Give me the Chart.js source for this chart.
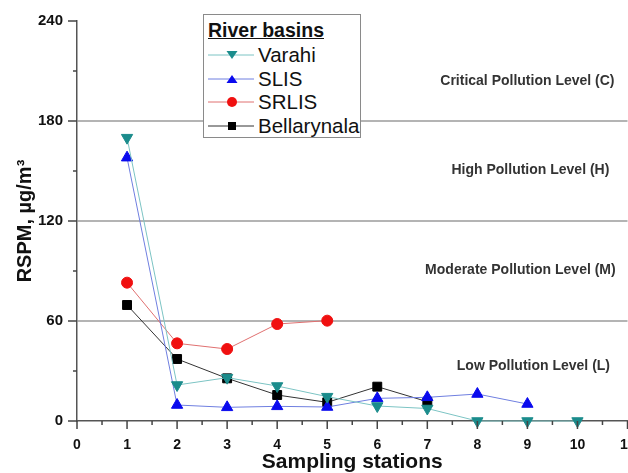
<!DOCTYPE html>
<html><head><meta charset="utf-8">
<script src="https://cdn.jsdelivr.net/npm/chart.js@4"></script>
<style>
html,body{margin:0;padding:0;background:#fff;overflow:hidden;}
#wrap{position:relative;width:628px;height:473px;overflow:hidden;}
#legend{position:absolute;left:203px;top:14px;width:158px;height:124px;border:1px solid #8a8a8a;background:#fff;box-sizing:border-box;font-family:"Liberation Sans",Arial,sans-serif;color:#111;}
#legend .ttl{position:absolute;left:4px;top:4px;font-weight:bold;font-size:19.5px;line-height:22px;text-decoration:underline;}
#legend .row{position:absolute;left:0;height:24px;width:156px;}
#legend .row svg{position:absolute;left:2px;top:2px;}
#legend .row span{position:absolute;left:54px;top:0;font-size:20.5px;line-height:24px;white-space:nowrap;}
</style>
</head><body>
<div id="wrap">
<canvas id="c" width="635" height="473"></canvas>
<div id="legend"></div>
</div>
<script>
// ---- data ----
const stations = [1, 2, 3, 4, 5, 6, 7, 8, 9, 10];
const varahi = [170, 21.6, 26, 21, 14.6, 9, 7.5, 0, 0, 0];
const slis = [158, 9.6, 8.2, 8.8, 8.4, 13.6, 14.2, 16.2, 10.2];
const srlis = [83, 46.6, 43.2, 58.2, 60.2];
const bellarynala = [69.6, 37.2, 25.6, 15.6, 11.2, 20.6, 11.6];
const seriesNames = ['Varahi', 'SLIS', 'SRLIS', 'Bellarynala'];
const legendTitle = 'River basins';
const xTickValues = [0, 1, 2, 3, 4, 5, 6, 7, 8, 9, 10, 11];
const yTickValues = [0, 60, 120, 180, 240];
const levelNames = ['Critical Pollution Level (C)', 'High Pollution Level (H)', 'Moderate Pollution Level (M)', 'Low Pollution Level (L)'];
const levelValues = [204, 150.6, 90.6, 33];
const levelStations = [9.0, 9.06, 8.86, 9.12];
const xTitle = 'Sampling stations';
const yTitle = 'RSPM, µg/m³';

const FONT = '"Liberation Sans", Arial, sans-serif';
const styles = [
  {marker:'#1b8c8c', line:'#7cc4c4', shape:'triangle', rot:180, r:6.5},
  {marker:'#0a0aee', line:'#6f7fe0', shape:'triangle', rot:0, r:6.5},
  {marker:'#f01010', line:'#e07070', shape:'circle', rot:0, r:5.5},
  {marker:'#000000', line:'#333333', shape:'rect', rot:0, r:6.3}
];
const seriesValues = [varahi, slis, srlis, bellarynala];
const toPoints = arr => arr.map((v, i) => ({x: stations[i], y: v}));

const datasets = seriesValues.map((vals, i) => ({
  label: seriesNames[i],
  data: toPoints(vals),
  borderColor: styles[i].line,
  borderWidth: 1,
  backgroundColor: styles[i].marker,
  pointBackgroundColor: styles[i].marker,
  pointBorderColor: styles[i].marker,
  pointBorderWidth: 1,
  pointStyle: styles[i].shape,
  pointRotation: styles[i].rot,
  pointRadius: styles[i].r,
  tension: 0,
  clip: false,
  fill: false
}));

const decor = {
  id: 'decor',
  afterDraw(chart) {
    const {ctx, scales: {x, y}} = chart;
    ctx.save();
    ctx.strokeStyle = '#444';
    ctx.lineWidth = 1.5;
    const xMax = xTickValues[xTickValues.length - 1];
    for (let v = 0; v <= xMax + 1e-9; v += 0.5) {
      const px = x.getPixelForValue(v);
      const len = Number.isInteger(v) ? 8 : 4;
      ctx.beginPath(); ctx.moveTo(px, y.bottom); ctx.lineTo(px, y.bottom + len); ctx.stroke();
    }
    const yMax = yTickValues[yTickValues.length - 1];
    for (let v = 0; v <= yMax; v += 30) {
      const py = y.getPixelForValue(v);
      const len = (v % 60 === 0) ? 9 : 4;
      ctx.beginPath(); ctx.moveTo(x.left - len, py); ctx.lineTo(x.left, py); ctx.stroke();
    }
    ctx.font = 'bold 14px ' + FONT;
    ctx.fillStyle = '#333';
    ctx.textAlign = 'center';
    ctx.textBaseline = 'middle';
    levelNames.forEach((t, i) => ctx.fillText(t, x.getPixelForValue(levelStations[i]), y.getPixelForValue(levelValues[i])));
    ctx.restore();
  }
};

new Chart(document.getElementById('c'), {
  type: 'line',
  data: {datasets},
  options: {
    responsive: false,
    animation: false,
    devicePixelRatio: 1,
    layout: {padding: {top: 21, right: 1, bottom: 0, left: 0}},
    plugins: {legend: {display: false}, tooltip: {enabled: false}},
    scales: {
      x: {
        type: 'linear', min: 0, max: 11,
        afterBuildTicks: s => { s.ticks = xTickValues.map(v => ({value: v})); },
        afterFit: s => { s.height = 52; s.paddingLeft = 0; s.paddingRight = 0; },
        ticks: {autoSkip: false, maxRotation: 0, padding: 16, color: '#111', font: {family: FONT, size: 14, weight: 'bold'}},
        grid: {drawOnChartArea: false, drawTicks: false},
        border: {display: true, color: '#555', width: 1.5},
        title: {display: true, text: xTitle, color: '#111', font: {family: FONT, size: 21, weight: 'bold', lineHeight: 1}, padding: {top: 0, bottom: 0}}
      },
      y: {
        type: 'linear', min: 0, max: 240,
        afterBuildTicks: s => { s.ticks = yTickValues.map(v => ({value: v})); },
        afterFit: s => { s.width = 77; s.paddingTop = 0; s.paddingBottom = 0; },
        ticks: {padding: 14, color: '#111', font: {family: FONT, size: 15, weight: 'bold'}},
        grid: {
          drawTicks: false,
          color: c => (c.tick && c.tick.value > 0 && c.tick.value < 240) ? '#b4b4b4' : 'rgba(0,0,0,0)',
          lineWidth: 2
        },
        border: {display: true, color: '#555', width: 1.5},
        title: {display: true, text: yTitle, color: '#111', font: {family: FONT, size: 20, weight: 'bold'}, padding: {top: 13, bottom: 0}}
      }
    }
  },
  plugins: [decor]
});

// ---- legend (HTML) ----
const lg = document.getElementById('legend');
const t = document.createElement('div');
t.className = 'ttl'; t.textContent = legendTitle; lg.appendChild(t);
const rowTops = [28, 52, 75, 99];
function markerSvg(st) {
  let m = '';
  if (st.shape === 'circle') m = `<circle cx="26" cy="10" r="5" fill="${st.marker}"/>`;
  else if (st.shape === 'rect') m = `<rect x="22" y="6" width="8" height="8" fill="${st.marker}"/>`;
  else if (st.rot === 180) m = `<polygon points="20.5,6 31.5,6 26,14" fill="${st.marker}"/>`;
  else m = `<polygon points="20.5,14 31.5,14 26,6" fill="${st.marker}"/>`;
  return `<svg width="50" height="20"><line x1="2" y1="10" x2="48" y2="10" stroke="${st.line}" stroke-width="1"/>${m}</svg>`;
}
seriesNames.forEach((n, i) => {
  const r = document.createElement('div');
  r.className = 'row'; r.style.top = rowTops[i] + 'px';
  r.innerHTML = markerSvg(styles[i]);
  const s = document.createElement('span'); s.textContent = n; r.appendChild(s);
  lg.appendChild(r);
});
</script>
</body></html>
